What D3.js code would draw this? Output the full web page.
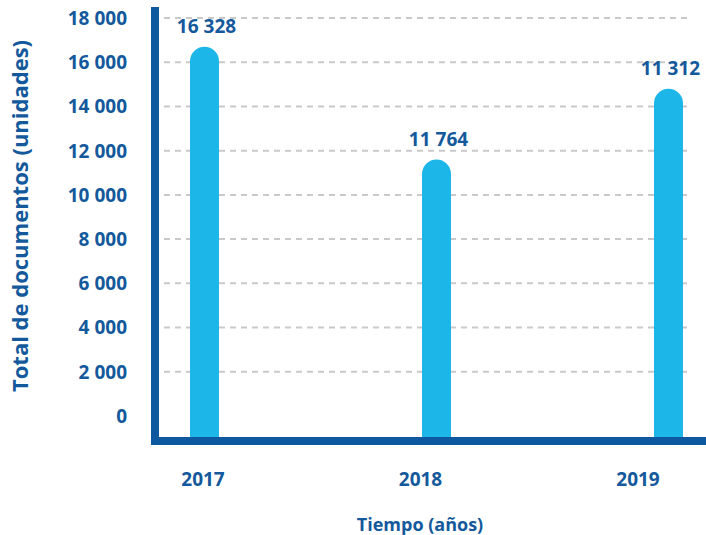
<!DOCTYPE html>
<html><head><meta charset="utf-8">
<script src="https://cdn.jsdelivr.net/npm/d3@7"></script>
<style>body{margin:0;background:#fff}svg{display:block}text{font-family:"Open Sans",sans-serif;font-weight:700}</style>
</head><body><svg id="c" width="706" height="535"></svg>
<script>
const years = ["2017", "2018", "2019"];
const barValues = [16700, 11600, 14800];      // bar heights as drawn
const valueLabels = ["16 328", "11 764", "11 312"]; // printed labels
const yTicks = [0, 2000, 4000, 6000, 8000, 10000, 12000, 14000, 16000, 18000];
const yTitle = "Total de documentos (unidades)";
const xTitle = "Tiempo (años)";

const dark = "#13599c", barCol = "#1db6e8", grid = "#c9c9c9";
const svg = d3.select("#c");
const y = d3.scaleLinear().domain([0, 18000]).range([416, 18]);
const xBar = d3.scalePoint().domain(years).range([204.5, 668.5]);
const xLab = d3.scalePoint().domain(years).range([203, 638]);
const fmt = v => d3.format(",")(v).replace(/,/g, " ");
const baseY = 437, bw = 29, r = bw / 2;

// gridlines
svg.append("g").selectAll("line").data(yTicks.filter(d => d > 0)).join("line")
  .attr("x1", 164).attr("x2", 692).attr("y1", d => y(d)).attr("y2", d => y(d))
  .attr("stroke", grid).attr("stroke-width", 2).attr("stroke-dasharray", "6,5");

// y tick labels
svg.append("g").selectAll("text").data(yTicks).join("text")
  .attr("x", 127).attr("y", d => y(d)).attr("dy", "0.36em")
  .attr("text-anchor", "end").attr("fill", dark).attr("font-size", 19)
  .text(fmt);

// bars with rounded top
svg.append("g").selectAll("path").data(years).join("path")
  .attr("fill", barCol)
  .attr("d", (d, i) => {
    const cx = xBar(d), top = y(barValues[i]);
    return `M${cx - r},${baseY} V${top + r} A${r},${r} 0 0 1 ${cx + r},${top + r} V${baseY} Z`;
  });

// value labels
svg.append("g").selectAll("text").data(years).join("text")
  .attr("x", d => xBar(d) + 2).attr("y", (d, i) => y(barValues[i]) - 14)
  .attr("text-anchor", "middle").attr("fill", dark).attr("font-size", 19)
  .text((d, i) => valueLabels[i]);

// axes lines
svg.append("line").attr("x1", 155).attr("x2", 155).attr("y1", 7).attr("y2", 445)
  .attr("stroke", "#0e58a0").attr("stroke-width", 8);
svg.append("line").attr("x1", 151).attr("x2", 706).attr("y1", 441).attr("y2", 441)
  .attr("stroke", "#0e58a0").attr("stroke-width", 8);

// x labels
svg.append("g").selectAll("text").data(years).join("text")
  .attr("x", d => xLab(d)).attr("y", 486)
  .attr("text-anchor", "middle").attr("fill", dark).attr("font-size", 19)
  .text(d => d);

// titles
svg.append("text").attr("transform", "translate(28,216) rotate(-90)")
  .attr("text-anchor", "middle").attr("fill", dark).attr("font-size", 22).text(yTitle);
svg.append("text").attr("x", 420).attr("y", 531)
  .attr("text-anchor", "middle").attr("fill", dark).attr("font-size", 18).text(xTitle);
</script></body></html>
